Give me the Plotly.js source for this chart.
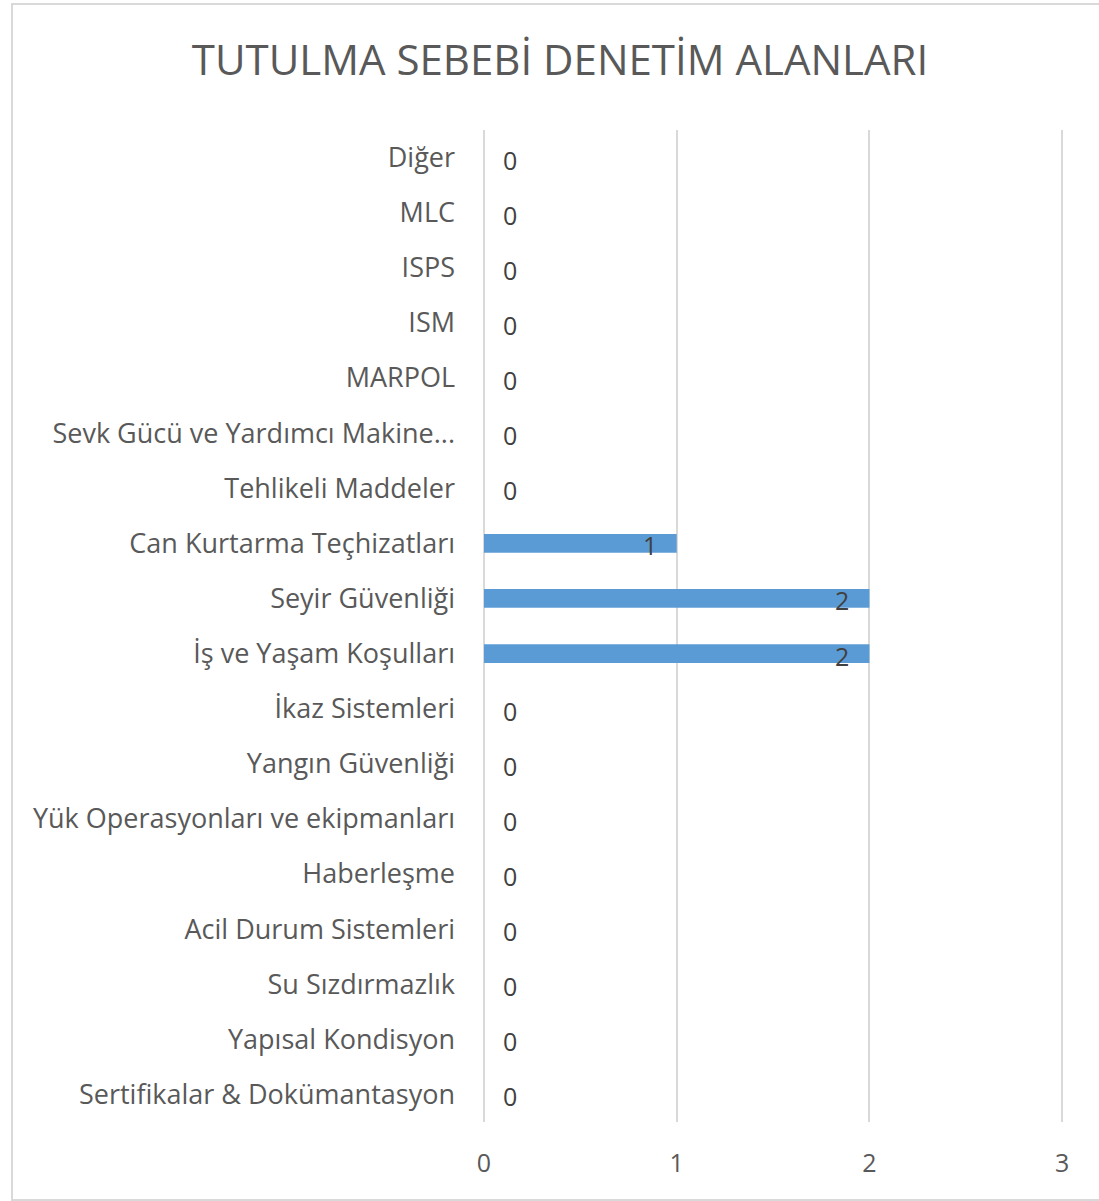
<!DOCTYPE html>
<html>
<head>
<meta charset="utf-8">
<script src="https://cdn.plot.ly/plotly-3.0.1.min.js"></script>
<style>
  html, body { margin: 0; padding: 0; background: #fff; }
  #wrap { position: relative; width: 1099px; height: 1201px; }
  #chart { position: absolute; left: 0; top: 0; width: 1099px; height: 1201px; }
  #frame { position: absolute; left: 11px; top: 3px; width: 1100px; height: 1194px;
           border: 2px solid #D9D9D9; pointer-events: none; }
</style>
</head>
<body>
<div id="wrap">
  <div id="chart"></div>
  <div id="frame"></div>
</div>
<script>
// Categories listed top to bottom as in the picture
const categories = [
  "Diğer",
  "MLC",
  "ISPS",
  "ISM",
  "MARPOL",
  "Sevk Gücü ve Yardımcı Makine...",
  "Tehlikeli Maddeler",
  "Can Kurtarma Teçhizatları",
  "Seyir Güvenliği",
  "İş ve Yaşam Koşulları",
  "İkaz Sistemleri",
  "Yangın Güvenliği",
  "Yük Operasyonları ve ekipmanları",
  "Haberleşme",
  "Acil Durum Sistemleri",
  "Su Sızdırmazlık",
  "Yapısal Kondisyon",
  "Sertifikalar & Dokümantasyon"
];
const values = [0, 0, 0, 0, 0, 0, 0, 1, 2, 2, 0, 0, 0, 0, 0, 0, 0, 0];
const xTicks = [0, 1, 2, 3];
const chartTitle = "TUTULMA SEBEBİ DENETİM ALANLARI";

const FONT = "Open Sans, Noto Sans, sans-serif";

const annotations = categories.map((c, i) => {
  const v = values[i];
  return {
    x: v, y: c, xref: "x", yref: "y",
    text: String(v),
    showarrow: false,
    xanchor: v > 0 ? "right" : "left",
    xshift: v > 0 ? -18 : 17,
    yshift: -2,
    font: { family: FONT, size: 25, color: "#404040" }
  };
});

const trace = {
  type: "bar",
  orientation: "h",
  x: values,
  y: categories,
  width: 0.34,
  marker: { color: "#5B9BD5" },
  hoverinfo: "x+y"
};

const layout = {
  width: 1099,
  height: 1201,
  margin: { l: 484, r: 33, t: 130, b: 79 },
  paper_bgcolor: "#ffffff",
  plot_bgcolor: "#ffffff",
  showlegend: false,
  title: {
    text: chartTitle,
    x: 560 / 1099, xref: "container", xanchor: "center",
    y: 1 - 60 / 1201, yref: "container", yanchor: "middle",
    font: { family: FONT, size: 42, color: "#595959" }
  },
  xaxis: {
    range: [0, 3.02],
    tickvals: xTicks,
    ticktext: xTicks.map(String),
    showgrid: true,
    gridcolor: "#D9D9D9",
    gridwidth: 2,
    zeroline: true,
    zerolinecolor: "#D9D9D9",
    zerolinewidth: 2,
    showline: false,
    ticks: "",
    ticklabelstandoff: 24,
    tickfont: { family: FONT, size: 25, color: "#595959" },
    fixedrange: true
  },
  yaxis: {
    type: "category",
    categoryorder: "array",
    categoryarray: categories,
    range: [categories.length - 0.5, -0.5],
    showgrid: false,
    zeroline: false,
    showline: false,
    ticks: "",
    ticklabelstandoff: 28,
    tickfont: { family: FONT, size: 27, color: "#595959" },
    fixedrange: true
  },
  annotations: annotations,
  bargap: 0.66
};

Plotly.newPlot("chart", [trace], layout, { displayModeBar: false, staticPlot: true });
</script>
</body>
</html>
